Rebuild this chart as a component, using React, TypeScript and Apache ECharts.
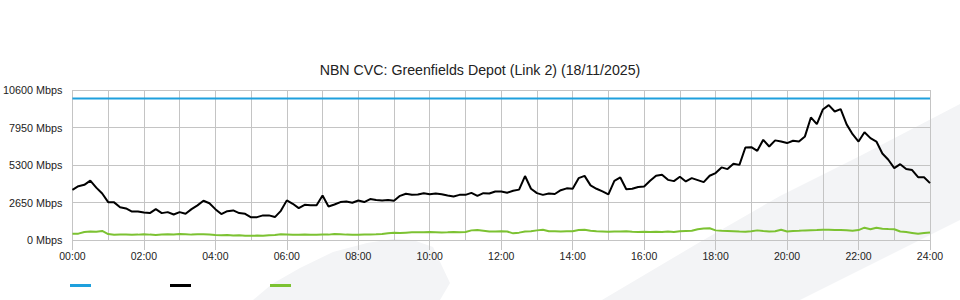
import React, { useEffect, useRef } from "react";
import * as echarts from "echarts";

const TITLE = "NBN CVC: Greenfields Depot (Link 2) (18/11/2025)";
const SERIES_NAMES = ["Capacity", "Download", "Upload"];
const STEP_MINUTES = 10;
const Y_MAX = 10600;
const Y_STEP = 2650;
const X_MAX_MINUTES = 1440;

const capacityMinutes = [0, 1440];
const capacityMbps = [10000, 10000];

const downloadMbps = [
  3548, 3800, 3900, 4200, 3700, 3290, 2676, 2660, 2320, 2230,
  2010, 2016, 1950, 1900, 2180, 1900, 1970, 1800, 1970, 1850,
  2180, 2450, 2770, 2600, 2180, 1830, 2040, 2090, 1900, 1850,
  1600, 1616, 1740, 1740, 1620, 2060, 2800, 2560, 2250, 2490,
  2460, 2460, 3150, 2370, 2510, 2680, 2720, 2630, 2790, 2680,
  2890, 2820, 2800, 2820, 2770, 3120, 3270, 3200, 3220, 3310,
  3240, 3290, 3240, 3150, 3080, 3190, 3190, 3330, 3120, 3310,
  3290, 3430, 3420,
  3340, 3480, 3560, 4520, 3620, 3310, 3190, 3290, 3250, 3520,
  3650, 3620, 4370, 4530, 3860, 3620, 3430, 3220, 4180, 4420,
  3590, 3620, 3740, 3780, 4180, 4540, 4610, 4250, 4160, 4470,
  4140, 4370, 4230, 4090, 4540, 4730, 5130, 5010, 5390, 5310,
  6540, 6560, 6300, 7080, 6610, 7040, 6960, 6850, 7010, 6960,
  7320, 8660, 8190, 9220, 9530, 9080, 9250, 8170, 7480, 6960,
  7620, 7200, 6960, 6110, 5670, 5080, 5360, 5010, 4940, 4440,
  4440, 4020,
];

const uploadMbps = [
  440, 450, 560, 600, 580, 640, 420, 370, 380, 380,
  370, 380, 410, 380, 360, 380, 400, 390, 430, 410,
  380, 400, 400, 390, 360, 340, 350, 310, 330, 300,
  300, 310, 300, 340, 360, 410, 390, 370, 370, 380,
  370, 370, 390, 380, 420, 410, 380, 370, 370, 380,
  390, 400, 420, 480, 520, 500, 520, 540, 550, 540,
  560, 550, 530, 540, 560, 540, 560, 680, 710, 660,
  600, 600, 620,
  600, 470, 520, 600, 620, 680, 720, 620, 610, 600,
  620, 620, 700, 720, 650, 620, 600, 580, 600, 600,
  610, 580, 570, 590, 560, 590, 560, 600, 570, 620,
  640, 650, 760, 820, 830, 680, 650, 640, 620, 600,
  590, 620, 680, 630, 600, 620, 720, 600, 640, 650,
  680, 690, 700, 720, 720, 700, 700, 690, 660, 700,
  870, 760, 870, 790, 770, 760, 600, 560, 500, 440,
  490, 530,
];

const COLORS = ["#1ea0dd", "#000000", "#7cc232"];
const GRID_COLOR = "#c4c4c4";
const BG_SHAPE = "#f3f4f6";
const FONT = "'Liberation Sans', Arial, sans-serif";

function fmtTime(m: number): string {
  const h = Math.floor(m / 60);
  const mm = m % 60;
  return String(h).padStart(2, "0") + ":" + String(mm).padStart(2, "0");
}

export default function App() {
  const ref = useRef<HTMLDivElement>(null);

  useEffect(() => {
    if (!ref.current) return;
    const chart = echarts.init(ref.current, null, { renderer: "svg" });
    const toPairs = (arr: number[]) => arr.map((v, i) => [i * STEP_MINUTES, v]);

    chart.setOption({
      animation: false,
      backgroundColor: "#ffffff",
      textStyle: { fontFamily: FONT },
      title: {
        text: TITLE,
        left: "center",
        top: 58,
        textStyle: { fontSize: 14.2, fontWeight: "normal", color: "#222", fontFamily: FONT },
      },
      graphic: [
        {
          type: "polygon",
          z: -10,
          silent: true,
          shape: {
            points: [
              [253, 300], [272, 284], [300, 268], [333, 252], [367, 243],
              [393, 239], [413, 240], [433, 247], [450, 283], [440, 300],
            ],
          },
          style: { fill: BG_SHAPE },
        },
        {
          type: "polygon",
          z: -10,
          silent: true,
          shape: {
            points: [
              [602, 300], [700, 242], [780, 196], [860, 156], [960, 104],
              [960, 220], [800, 300],
            ],
          },
          style: { fill: BG_SHAPE },
        },
      ],
      legend: {
        left: 65,
        top: 279,
        padding: 5,
        icon: "rect",
        itemWidth: 21,
        itemHeight: 3,
        itemGap: 79,
        formatter: () => "",
        data: SERIES_NAMES,
      },
      grid: { left: 70, right: 30, top: 90, bottom: 60 },
      xAxis: {
        type: "value",
        min: 0,
        max: X_MAX_MINUTES,
        interval: 120,
        axisLine: { show: true, lineStyle: { color: GRID_COLOR } },
        axisTick: { show: true, length: 10, lineStyle: { color: GRID_COLOR } },
        axisLabel: {
          margin: 10,
          fontSize: 10.5,
          color: "#222",
          fontFamily: FONT,
          formatter: (v: number) => fmtTime(v),
        },
        splitLine: { show: true, lineStyle: { color: GRID_COLOR, width: 1 } },
        minorTick: { show: false, splitNumber: 2 },
        minorSplitLine: { show: true, lineStyle: { color: GRID_COLOR, width: 1 } },
      },
      yAxis: {
        type: "value",
        min: 0,
        max: Y_MAX,
        interval: Y_STEP,
        axisLine: { show: false },
        axisTick: { show: false },
        axisLabel: {
          margin: 10,
          fontSize: 10.8,
          color: "#222",
          fontFamily: FONT,
          padding: [0, 0, 4, 0],
          formatter: (v: number) => v + " Mbps",
        },
        splitLine: { show: true, lineStyle: { color: GRID_COLOR, width: 1 } },
      },
      series: [
        {
          name: SERIES_NAMES[0],
          type: "line",
          data: capacityMinutes.map((m, i) => [m, capacityMbps[i]]),
          showSymbol: false,
          lineStyle: { color: COLORS[0], width: 2 },
          itemStyle: { color: COLORS[0] },
          z: 3,
        },
        {
          name: SERIES_NAMES[1],
          type: "line",
          data: toPairs(downloadMbps),
          showSymbol: false,
          lineStyle: { color: COLORS[1], width: 2 },
          itemStyle: { color: COLORS[1] },
          z: 4,
        },
        {
          name: SERIES_NAMES[2],
          type: "line",
          data: toPairs(uploadMbps),
          showSymbol: false,
          lineStyle: { color: COLORS[2], width: 2 },
          itemStyle: { color: COLORS[2] },
          z: 3,
        },
      ],
    });

    return () => chart.dispose();
  }, []);

  return (
    <div
      ref={ref}
      style={{ position: "fixed", left: 0, top: 0, width: 960, height: 300 }}
    />
  );
}
